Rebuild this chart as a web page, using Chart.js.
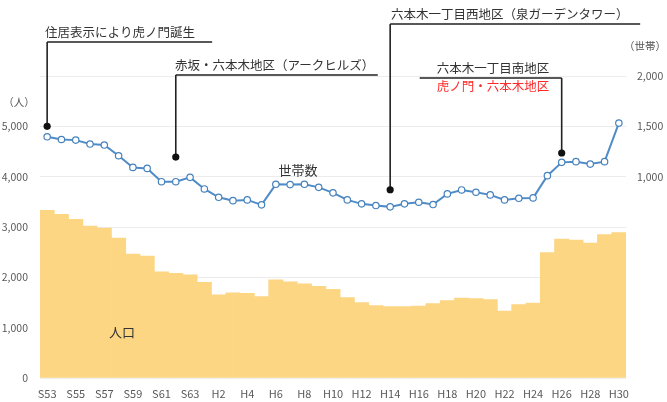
<!DOCTYPE html>
<html>
<head>
<meta charset="utf-8">
<script src="https://cdn.jsdelivr.net/npm/chart.js@4/dist/chart.umd.min.js"></script>
<style>
  html, body { margin: 0; padding: 0; background: #fff; }
  #wrap { width: 667px; height: 402px; }
</style>
</head>
<body>
<div id="wrap"><canvas id="chart1" width="667" height="402"></canvas></div>
<script>
// years S53 .. H30
const years = ['S53','S54','S55','S56','S57','S58','S59','S60','S61','S62','S63',
  'H1','H2','H3','H4','H5','H6','H7','H8','H9','H10','H11','H12','H13','H14','H15',
  'H16','H17','H18','H19','H20','H21','H22','H23','H24','H25','H26','H27','H28','H29','H30'];

// population (人), left axis
const population = [3330, 3250, 3150, 3020, 2980, 2780, 2460, 2420, 2110, 2080, 2050,
  1900, 1650, 1690, 1680, 1620, 1950, 1910, 1870, 1820, 1760, 1600, 1500, 1440, 1420, 1420,
  1430, 1480, 1540, 1590, 1580, 1560, 1330, 1460, 1490, 2490, 2760, 2740, 2680, 2850, 2890];

// households (世帯), right axis
const households = [1396, 1369, 1363, 1324, 1314, 1208, 1092, 1082, 950, 950, 993,
  878, 795, 762, 769, 720, 924, 921, 924, 894, 839, 769, 730, 713, 700, 730,
  746, 723, 829, 868, 845, 819, 769, 785, 789, 1010, 1142, 1149, 1125, 1149, 1532];

// annotations: year, dot height (left axis units), text
const noteYears = ['S53', 'S62', 'H14', 'H26'];
const noteValues = [5000, 4390, 3740, 4470];
const noteTexts = ['住居表示により虎ノ門誕生', '赤坂・六本木地区（アークヒルズ）',
  '六本木一丁目西地区（泉ガーデンタワー）', '六本木一丁目南地区'];
const noteSubText = '虎ノ門・六本木地区';

const FONT = '"Noto Sans CJK JP", "Noto Sans", sans-serif';

//draw the leader lines, dots and labels
const notesPlugin = {
  id: 'notes',
  afterDatasetsDraw(chart) {
    const ctx = chart.ctx;
    const x = chart.scales.x, y = chart.scales.y;
    // top of the leader and horizontal extent (pixels)
    const tops = [42, 75, 24, 78];
    const spans = [[0, 165], [0, 202], [0, 250], [-142, 0]];
    ctx.save();
    ctx.strokeStyle = '#222';
    ctx.fillStyle = '#111';
    ctx.lineWidth = 1.6;
    noteYears.forEach((yr, i) => {
      const px = x.getPixelForValue(years.indexOf(yr));
      const py = y.getPixelForValue(noteValues[i]);
      ctx.beginPath();
      ctx.moveTo(px, py);
      ctx.lineTo(px, tops[i]);
      ctx.moveTo(px + spans[i][0], tops[i]);
      ctx.lineTo(px + spans[i][1], tops[i]);
      ctx.stroke();
      ctx.beginPath();
      ctx.arc(px, py, 3.6, 0, Math.PI * 2);
      ctx.fill();
    });
    ctx.font = '12.5px ' + FONT;
    ctx.fillStyle = '#333';
    ctx.textBaseline = 'alphabetic';
    ctx.textAlign = 'left';
    ctx.fillText(noteTexts[0], 45, 37);
    ctx.fillText(noteTexts[1], 175, 70);
    ctx.fillText(noteTexts[2], 391, 19);
    ctx.textAlign = 'center';
    ctx.fillText(noteTexts[3], 493, 73);
    ctx.fillStyle = '#ff2a2a';
    ctx.fillText(noteSubText, 493, 91);
    // series labels
    ctx.font = '13px ' + FONT;
    ctx.fillStyle = '#333';
    ctx.fillText('世帯数', 298, 175);
    ctx.fillText('人口', 122, 337);
    // axis units
    ctx.font = '10.5px ' + FONT;
    ctx.fillStyle = '#555';
    ctx.fillText('（人）', 19, 106);
    ctx.fillText('（世帯）', 645, 50);
    ctx.restore();
  }
};

const chart1 = new Chart(document.getElementById('chart1'), {
  type: 'bar',
  data: {
    labels: years,
    datasets: [
      {
        type: 'line',
        label: '世帯数',
        data: households,
        yAxisID: 'y1',
        borderColor: '#4f8cc7',
        borderWidth: 2,
        pointRadius: 3.2,
        pointBackgroundColor: '#fff',
        pointBorderColor: '#4682bd',
        pointBorderWidth: 1.2,
        tension: 0,
        order: 0
      },
      {
        label: '人口',
        data: population,
        yAxisID: 'y',
        backgroundColor: 'rgb(252, 214, 130)',
        barPercentage: 1.0,
        categoryPercentage: 1.0,
        borderWidth: 0,
        order: 1
      }
    ]
  },
  options: {
    responsive: false,
    animation: false,
    layout: { padding: { top: 76, left: 0, right: 0, bottom: 0 } },
    plugins: { legend: { display: false }, tooltip: { enabled: false } },
    scales: {
      x: {
        grid: { display: false },
        border: { display: false },
        afterFit: (s) => { s.height = 24; },
        ticks: {
          autoSkip: false,
          maxRotation: 0,
          minRotation: 0,
          padding: 1,
          color: '#595959',
          font: { size: 11, family: FONT },
          callback: (v, i) => (i % 2 === 0 ? years[i] : '')
        }
      },
      y: {
        position: 'left',
        min: 0,
        max: 6000,
        afterFit: (s) => { s.width = 40; },
        grid: { color: '#ececec', drawTicks: false },
        border: { display: false },
        ticks: {
          stepSize: 1000,
          padding: 12,
          color: '#595959',
          font: { size: 10.5, family: FONT },
          callback: (v) => (v >= 6000 ? '' : v.toLocaleString('en-US'))
        }
      },
      y1: {
        position: 'right',
        min: -1000,
        max: 2000,
        afterFit: (s) => { s.width = 41; },
        grid: { display: false, drawTicks: false },
        border: { display: false },
        ticks: {
          stepSize: 500,
          padding: 11,
          color: '#595959',
          font: { size: 10.5, family: FONT },
          callback: (v) => (v >= 1000 ? v.toLocaleString('en-US') : '')
        }
      }
    }
  },
  plugins: [notesPlugin]
});
</script>
</body>
</html>
